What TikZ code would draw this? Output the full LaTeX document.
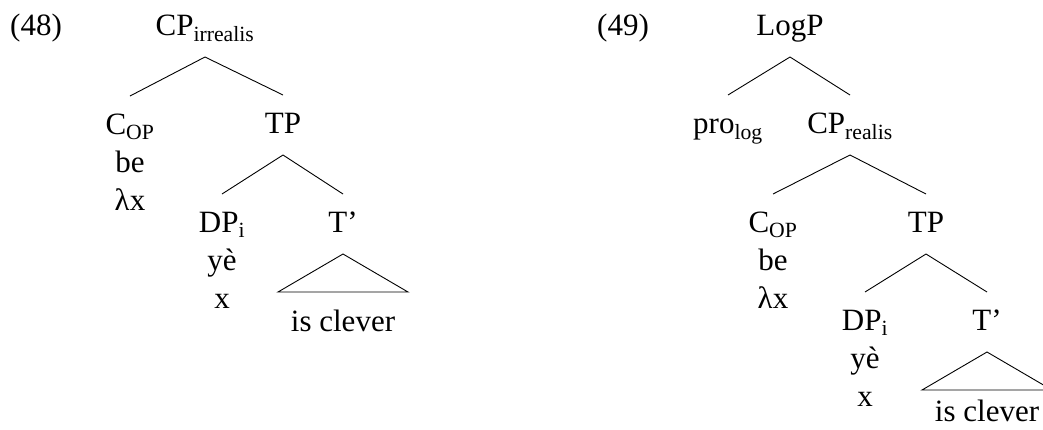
\documentclass[tikz,border=0pt]{standalone}
\usepackage{fontspec}
\setmainfont{Liberation Serif}
\usetikzlibrary{calc}
\tikzset{
    lbl/.style={anchor=base, inner sep=0pt, align=center,
        font=\fontsize{31}{38}\selectfont},
    branch/.style={line width=0.9pt}
}

\begin{document}
\begin{tikzpicture}[x=1pt, y=-1pt]
\useasboundingbox (0,0) rectangle (1043,429);
% (48) -- multi-line nodes sit on their last line
\node[lbl] (exA) at (36,35) {(48)};
\node[lbl] (cpA) at (205,35) {CP\textsubscript{irrealis}};
\node[lbl] (copA) at (130,210) {C\textsubscript{OP}\\be\\λx};
\node[lbl] (tpA) at (283,133) {TP};
\node[lbl] (dpA) at (222,308) {DP\textsubscript{i}\\yè\\x};
\node[lbl] (tbarA) at (343,232) {T’};
\node[lbl] (clevA) at (343,331) {is clever};
% (49)
\node[lbl] (exB) at (623,35) {(49)};
\node[lbl] (logP) at (790,35) {LogP};
\node[lbl] (pro) at (728,133) {pro\textsubscript{log}};
\node[lbl] (cpB) at (850,133) {CP\textsubscript{realis}};
\node[lbl] (copB) at (773,308) {C\textsubscript{OP}\\be\\λx};
\node[lbl] (tpB) at (926,232) {TP};
\node[lbl] (dpB) at (865,406) {DP\textsubscript{i}\\yè\\x};
\node[lbl] (tbarB) at (987,330) {T’};
\node[lbl] (clevB) at (987,421) {is clever};
% branches
\foreach \p/\c in {cpA/tpA, tpA/tbarA, logP/pro, logP/cpB, cpB/tpB, tpB/tbarB}
    \draw[branch] ([yshift=-22pt]\p.base) -- ([yshift=38pt]\c.base);
\foreach \p/\c in {cpA/copA, tpA/dpA, cpB/copB, tpB/dpB}
    \draw[branch] ([yshift=-22pt]\p.base) -- ([yshift=114pt]\c.base);
% roofs
\foreach \t in {tbarA, tbarB}
    \draw[branch] ([yshift=-22pt]\t.base) -- ([shift={(-65pt,-60pt)}]\t.base)
        -- ([shift={(65pt,-60pt)}]\t.base) -- cycle;
\end{tikzpicture}
\end{document}
